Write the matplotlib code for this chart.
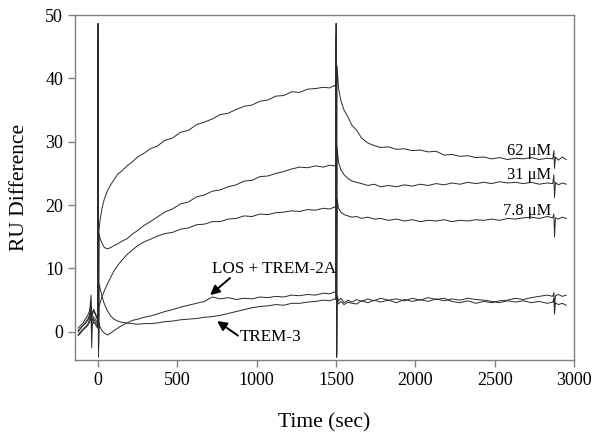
import matplotlib
matplotlib.use("Agg")
import matplotlib.pyplot as plt

plt.rcParams['font.family'] = ['Liberation Serif', 'DejaVu Serif']

# sensorgram sample times (sec), shared by all traces
time_s = [-125, -110, -95, -80, -65, -52, -44, -40, -36, -28, -18, -8, -3,
          0, 3, 6, 12, 25, 40, 60, 80, 100, 125, 150, 183, 215, 250, 290, 330,
          372, 420, 470, 520, 570, 620, 670, 720, 770, 820, 870, 920, 970,
          1020, 1070, 1120, 1170, 1220, 1270, 1320, 1370, 1420, 1460, 1490,
          1497, 1500, 1503, 1506, 1515, 1530, 1550, 1575, 1600, 1630, 1660,
          1700, 1740, 1780, 1830, 1880, 1930, 1980, 2030, 2080, 2130, 2180,
          2230, 2280, 2330, 2380, 2430, 2480, 2530, 2580, 2630, 2680, 2730,
          2780, 2830, 2865, 2872, 2876, 2882, 2900, 2925, 2950]

ru_62uM = [0.6, 1.0, 1.4, 2.0, 2.6, 3.4, 5.8, 3.0, 2.6, 3.4, 2.8, 2.2, 1.8,
           48.7, -4.0, 16.0, 17.5, 19.5, 21.0, 22.3, 23.2, 24.0, 24.9, 25.4,
           26.2, 26.8, 27.6, 28.2, 28.9, 29.3, 30.2, 30.6, 31.5, 31.8, 32.7,
           33.1, 33.6, 34.3, 34.5, 35.1, 35.6, 35.8, 36.4, 36.6, 37.2, 37.3,
           37.9, 37.8, 38.3, 38.4, 38.6, 38.5, 38.9, 38.6,
           48.7, -4.0, 42.0, 38.5, 36.5, 35.0, 33.9, 32.6, 31.8, 30.6, 29.8,
           29.4, 29.1, 29.2, 28.8, 28.9, 28.6, 28.7, 28.4, 28.5, 27.9, 28.0,
           27.7, 27.8, 27.5, 27.6, 27.3, 27.5, 27.2, 27.4, 27.3, 27.5, 27.2,
           27.4, 27.3, 28.6, 25.8, 27.6, 27.1, 27.6, 27.2]

ru_31uM = [0.0, 0.5, 1.0, 1.5, 2.0, 2.8, 4.5, 2.0, 1.8, 2.4, 2.0, 1.6, 1.2,
           44.0, -3.8, 15.5, 14.8, 14.0, 13.3, 13.1, 13.3, 13.6, 13.9, 14.3,
           14.7, 15.4, 16.0, 16.8, 17.4, 18.1, 18.9, 19.4, 20.2, 20.5, 21.3,
           21.6, 22.2, 22.4, 22.9, 23.2, 23.8, 23.9, 24.5, 24.6, 25.0, 25.3,
           25.7, 26.0, 25.9, 26.2, 26.0, 26.3, 26.2, 26.4,
           45.0, -3.9, 29.2, 26.8, 25.6, 24.8, 24.2, 23.8, 23.6, 23.4, 23.1,
           23.3, 22.9, 23.1, 22.9, 23.2, 23.0, 23.3, 23.1, 23.4, 23.2, 23.5,
           23.3, 23.6, 23.4, 23.6, 23.4, 23.7, 23.5, 23.6, 23.4, 23.6, 23.3,
           23.5, 23.4, 24.8, 21.2, 23.6, 23.2, 23.5, 23.3]

ru_7_8uM = [-0.4, 0.0, 0.4, 0.8, 1.2, 2.0, 3.2, -2.5, 1.0, 1.6, 1.2, 0.8, 0.6,
            46.0, -3.9, 4.0, 4.5, 5.5, 6.5, 7.6, 8.6, 9.6, 10.5, 11.3, 12.2,
            12.9, 13.6, 14.2, 14.6, 15.1, 15.5, 15.7, 16.2, 16.4, 16.9, 17.0,
            17.4, 17.4, 17.8, 17.9, 18.3, 18.2, 18.6, 18.5, 18.8, 18.9, 19.1,
            19.0, 19.3, 19.2, 19.5, 19.4, 19.7, 19.5,
            46.5, -4.0, 21.0, 19.5, 18.9, 18.5, 18.3, 18.1, 18.2, 17.9, 18.1,
            17.8, 17.9, 17.6, 17.8, 17.5, 17.7, 17.4, 17.6, 17.5, 17.7, 17.4,
            17.6, 17.5, 17.7, 17.6, 17.8, 17.6, 17.9, 17.8, 18.0, 18.1, 17.9,
            18.2, 18.0, 18.6, 15.0, 18.0, 17.8, 18.1, 17.9]

ru_los_trem2a = [0.2, 0.6, 1.0, 1.3, 1.8, 2.4, 4.0, 1.5, 2.8, 3.6, 3.0, 2.4, 2.0,
                 40.0, -3.7, 1.5, 0.8, 0.2, -0.2, -0.5, -0.2, 0.2, 0.6, 1.0,
                 1.4, 1.8, 2.0, 2.3, 2.5, 2.8, 3.2, 3.5, 3.9, 4.2, 4.5, 4.8,
                 5.5, 5.2, 5.4, 5.1, 5.3, 5.2, 5.5, 5.4, 5.6, 5.5, 5.8, 5.7,
                 5.9, 5.8, 6.1, 6.0, 6.3, 6.2,
                 44.0, -3.8, 5.8, 4.9, 5.3, 4.6, 5.0, 4.7, 5.1, 4.8, 5.2, 4.9,
                 5.3, 5.0, 5.2, 4.9, 5.3, 5.0, 5.4, 5.1, 5.3, 4.8, 4.6, 4.9,
                 4.5, 4.8, 4.6, 4.9, 5.0, 5.3, 5.1, 5.4, 5.6, 5.8, 5.6, 6.2,
                 4.2, 5.7, 5.9, 5.6, 5.8]

ru_trem3 = [-0.6, -0.2, 0.3, 0.6, 1.0, 1.6, 2.6, 0.5, 1.2, 2.0, 1.6, 1.1, 0.8,
            38.0, -3.5, 7.6, 7.0, 5.6, 4.4, 3.3, 2.5, 2.0, 1.7, 1.5, 1.4, 1.3,
            1.2, 1.3, 1.3, 1.4, 1.6, 1.7, 1.9, 2.0, 2.1, 2.3, 2.4, 2.6, 2.9,
            3.2, 3.5, 3.8, 4.0, 4.1, 4.3, 4.2, 4.5, 4.5, 4.7, 4.8, 5.0, 4.9,
            5.2, 5.1,
            40.0, -3.6, 5.2, 4.4, 4.8, 4.3, 4.7, 4.5, 4.4, 4.9, 4.6, 5.0, 4.7,
            5.0, 4.6, 5.1, 4.8, 5.1, 4.8, 5.2, 4.9, 5.2, 5.0, 5.3, 5.1, 5.0,
            4.8, 4.6, 4.9, 4.7, 4.9, 4.6, 4.8, 4.5, 4.7, 5.3, 2.8, 4.6, 4.3,
            4.5, 4.2]

conc_labels = ['62 \u03bcM', '31 \u03bcM', '7.8 \u03bcM']
conc_label_y = [28.6, 24.7, 19.0]

fig = plt.figure(figsize=(6.0, 4.43), dpi=100)
ax = fig.add_axes([0.125, 0.188, 0.832, 0.778])

for ru in [ru_62uM, ru_31uM, ru_7_8uM, ru_los_trem2a, ru_trem3]:
    ax.plot(time_s, ru, color='#2a2a2a', lw=0.7)

for lab, yy in zip(conc_labels, conc_label_y):
    ax.text(2855, yy, lab, ha='right', va='center', fontsize=11.8)

arrow = dict(arrowstyle='-|>', color='black', lw=1.4, mutation_scale=14,
             shrinkA=0, shrinkB=0)
ax.text(1110, 9.9, 'LOS + TREM-2A', ha='center', va='center', fontsize=12.3)
ax.annotate('', xy=(706, 5.8), xytext=(832, 8.5), arrowprops=arrow)
ax.text(895, -0.8, 'TREM-3', ha='left', va='center', fontsize=12.3)
ax.annotate('', xy=(750, 1.7), xytext=(882, -0.6), arrowprops=arrow)

ax.set_xlim(-145, 3000)
ax.set_ylim(-4.4, 50)
ax.set_xticks([0, 500, 1000, 1500, 2000, 2500, 3000])
ax.set_yticks([0, 10, 20, 30, 40, 50])
for sp in ax.spines.values():
    sp.set_color('#808080')
    sp.set_linewidth(1.0)
ax.tick_params(direction='out', length=5, width=1.0, color='#808080',
               labelsize=13, labelcolor='black')

ax.set_xlabel('Time (sec)', fontsize=15.5, labelpad=18)
ax.set_ylabel('RU Difference', fontsize=15.5, labelpad=12)

fig.savefig('out.png', dpi=100)
